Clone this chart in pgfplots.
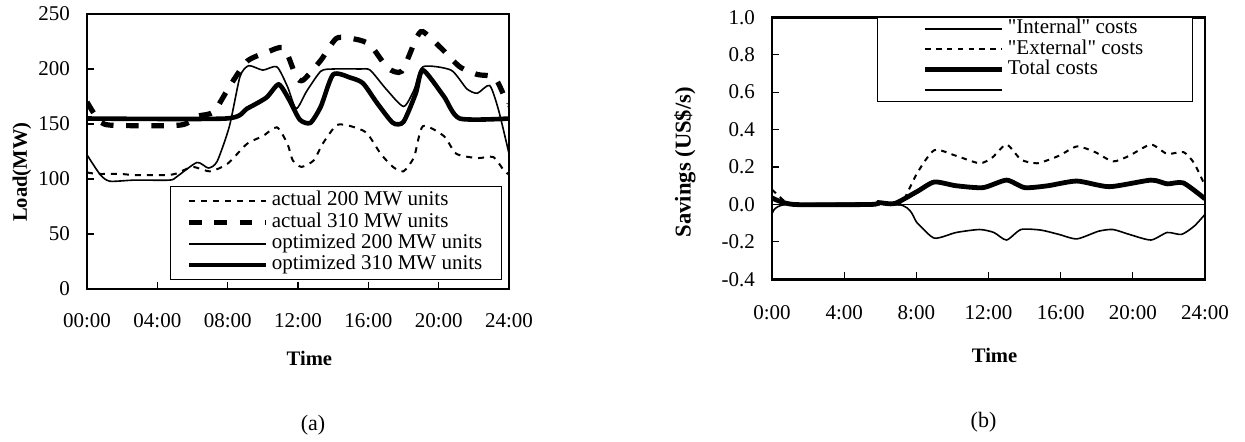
\documentclass[border=0pt]{standalone}
\usepackage{fontspec}
\setmainfont{Liberation Serif}
\usepackage{pgfplots}
\pgfplotsset{compat=1.18}

\newcommand{\fs}{\fontsize{10.5}{12}\selectfont}

\pgfplotsset{
  loadplot/.style={
    scale only axis, xmin=0, xmax=24,
    xtick={0,4,...,24},
    tick align=inside, tick pos=left, major tick length=3.5pt,
    axis line style={line width=1.2pt},
    every tick/.style={black, line width=0.6pt},
    tick label style={font=\fs},
    yticklabel style={xshift=-5pt, /pgf/number format/assume math mode=true},
    xticklabel style={yshift=-8.5pt},
    label style={font=\fontsize{10.3}{12}\selectfont\bfseries},
    legend style={font=\fs, draw=black, line width=0.5pt, row sep=0pt,
      nodes={inner xsep=1.5pt, inner ysep=0.4pt, text height=7.3pt, text depth=2.6pt}},
    legend cell align=left,
    legend image code/.code={\draw[#1] (0pt,0pt) -- (38.5pt,0pt);},
  },
}

\begin{document}
\begin{tikzpicture}[font=\fs]
\useasboundingbox (0,0) rectangle (622.5pt,220.5pt);

% (a) load of the units
\begin{axis}[loadplot,
  at={(43.5pt,76pt)}, anchor=south west,
  width=211pt, height=137.5pt,
  ymin=0, ymax=250, ytick={0,50,...,250},
  xticklabels={00:00,04:00,08:00,12:00,16:00,20:00,24:00},
  xlabel={Time}, ylabel={Load(MW)},
  xlabel style={at={(axis description cs:0.527,-0.251)}, anchor=center},
  ylabel style={at={(axis description cs:-0.154,0.425)}, anchor=center},
  legend style={at={(0.983,0.033)}, anchor=south east, inner xsep=8pt, inner ysep=1.8pt},
]
\addplot[black, line width=1pt, dash pattern=on 3pt off 3pt, smooth, tension=0.4] coordinates {
(0,106) (0.6,104.6) (1.9,104.6) (2.7,103.6) (4.5,103.6) (5.1,105) (6,111) (7,107)
(8,114) (9.1,132) (10,139) (10.8,147) (11.4,132) (11.7,117) (12.2,111) (12.9,117)
(13.4,132) (14.2,149) (15,148) (15.9,142) (16.7,123) (17.4,111) (18,107) (18.6,120)
(19.1,148) (20.3,139) (21,123) (22.2,119) (23.1,120) (23.7,108) (24,104)
};
\addlegendentry{actual 200 MW units}
\addplot[black, line width=2.6pt, dash pattern=on 6.3pt off 6.3pt, smooth, tension=0.4] coordinates {
(0,170) (0.6,155) (1.3,149) (5.3,149) (6.25,157) (7.2,161) (8.1,184) (9.1,207)
(10.2,215) (11.2,219) (11.9,193) (12.3,190) (13.3,208) (14.2,228) (15.3,227) (16.1,222)
(17.1,201) (17.9,198) (18.7,227) (19.1,234) (20.2,218) (21.2,202) (22.2,195) (23.2,192)
(23.9,169) (24,168)
};
\addlegendentry{actual 310 MW units}
\addplot[black, line width=0.8pt, smooth, tension=0.4] coordinates {
(0,122) (0.75,104) (1.3,98) (2.7,99) (4.7,99) (5.1,102) (6.25,115) (6.9,110) (7.4,116)
(8.1,148) (8.7,193) (9.2,203) (10,199) (10.8,202) (11.4,184) (11.9,164) (12.5,180)
(13.3,198) (14,200) (15.5,200) (16.1,199) (17,182) (18,166) (18.6,181) (19.1,202)
(20.7,199) (21.6,182) (22.2,178) (22.9,185) (23.4,163) (24,123)
};
\addlegendentry{optimized 200 MW units}
\addplot[black, line width=2.3pt, smooth, tension=0.4] coordinates {
(0,155) (7.9,155) (9.1,164) (10.2,174) (10.9,186) (11.5,172) (12.1,154) (12.7,151)
(13.3,166) (14,195) (15,192) (15.7,187) (16.5,169) (17.4,151) (18,152) (18.7,178)
(19.1,199) (20.3,175) (21.2,155) (24,155)
};
\addlegendentry{optimized 310 MW units}
\end{axis}

% (b) savings
\begin{axis}[loadplot,
  at={(386pt,80.85pt)}, anchor=south west,
  width=216.5pt, height=131pt,
  ymin=-0.4, ymax=1.0, ytick={-0.4,-0.2,...,1.01},
  yticklabel style={/pgf/number format/.cd, fixed, fixed zerofill, precision=1},
  xticklabels={0:00,4:00,8:00,12:00,16:00,20:00,24:00},
  xticklabel style={yshift=-1pt},
  xlabel={Time}, ylabel={Savings (US\$/s)},
  xlabel style={at={(axis description cs:0.514,-0.289)}, anchor=center},
  ylabel style={at={(axis description cs:-0.201,0.447)}, anchor=center,
    font=\fontsize{11.3}{13}\selectfont\bfseries},
  legend style={at={(0.972,1)}, anchor=north east, inner xsep=23pt, inner ysep=0.6pt,
    nodes={inner ysep=0.3pt, text height=7.1pt, text depth=2.4pt}},
]
\addplot[black, line width=0.8pt, smooth, tension=0.4] coordinates {
(0,-0.053) (0.8,0) (7,0) (8.06,-0.10) (9,-0.18) (10.2,-0.15) (11.5,-0.134) (12.3,-0.15)
(13,-0.19) (13.8,-0.134) (14.9,-0.137) (15.9,-0.16) (16.9,-0.184) (18.1,-0.143)
(18.9,-0.134) (19.8,-0.16) (21,-0.19) (21.9,-0.15) (22.7,-0.16) (23.4,-0.116) (24,-0.053)
};
\addlegendentry{\textquotedbl Internal\textquotedbl{} costs}
\addplot[black, line width=1pt, dash pattern=on 2.7pt off 2.7pt, smooth, tension=0.4] coordinates {
(0,0.08) (0.8,0.01) (1.5,0) (6.5,0) (7.2,0.01) (8.06,0.17) (9,0.29) (10.2,0.26)
(11.5,0.22) (12.2,0.25) (13,0.32) (13.8,0.24) (14.7,0.22) (15.9,0.26) (16.9,0.31)
(17.9,0.28) (18.9,0.23) (19.8,0.26) (21,0.32) (21.9,0.27) (22.8,0.28) (23.4,0.22) (24,0.10)
};
\addlegendentry{\textquotedbl External\textquotedbl{} costs}
\addplot[black, line width=2.4pt, smooth, tension=0.4] coordinates {
(0,0.035) (1.2,0) (5.5,0) (5.9,0.01) (6.8,0.005) (8.06,0.07) (9,0.12) (10.2,0.10)
(11.7,0.09) (13,0.13) (14,0.09) (15.3,0.10) (16.9,0.125) (18.7,0.095) (21,0.13)
(21.9,0.11) (22.8,0.115) (24,0.03)
};
\addlegendentry{Total costs}
\addplot[black, line width=0.8pt] coordinates {(0,0) (24,0)};
\addlegendentry{}
\end{axis}

\node[font=\fontsize{11}{13}\selectfont] at (156.5pt,8pt) {(a)};
\node[font=\fontsize{11}{13}\selectfont] at (491.75pt,9.25pt) {(b)};
\end{tikzpicture}
\end{document}
